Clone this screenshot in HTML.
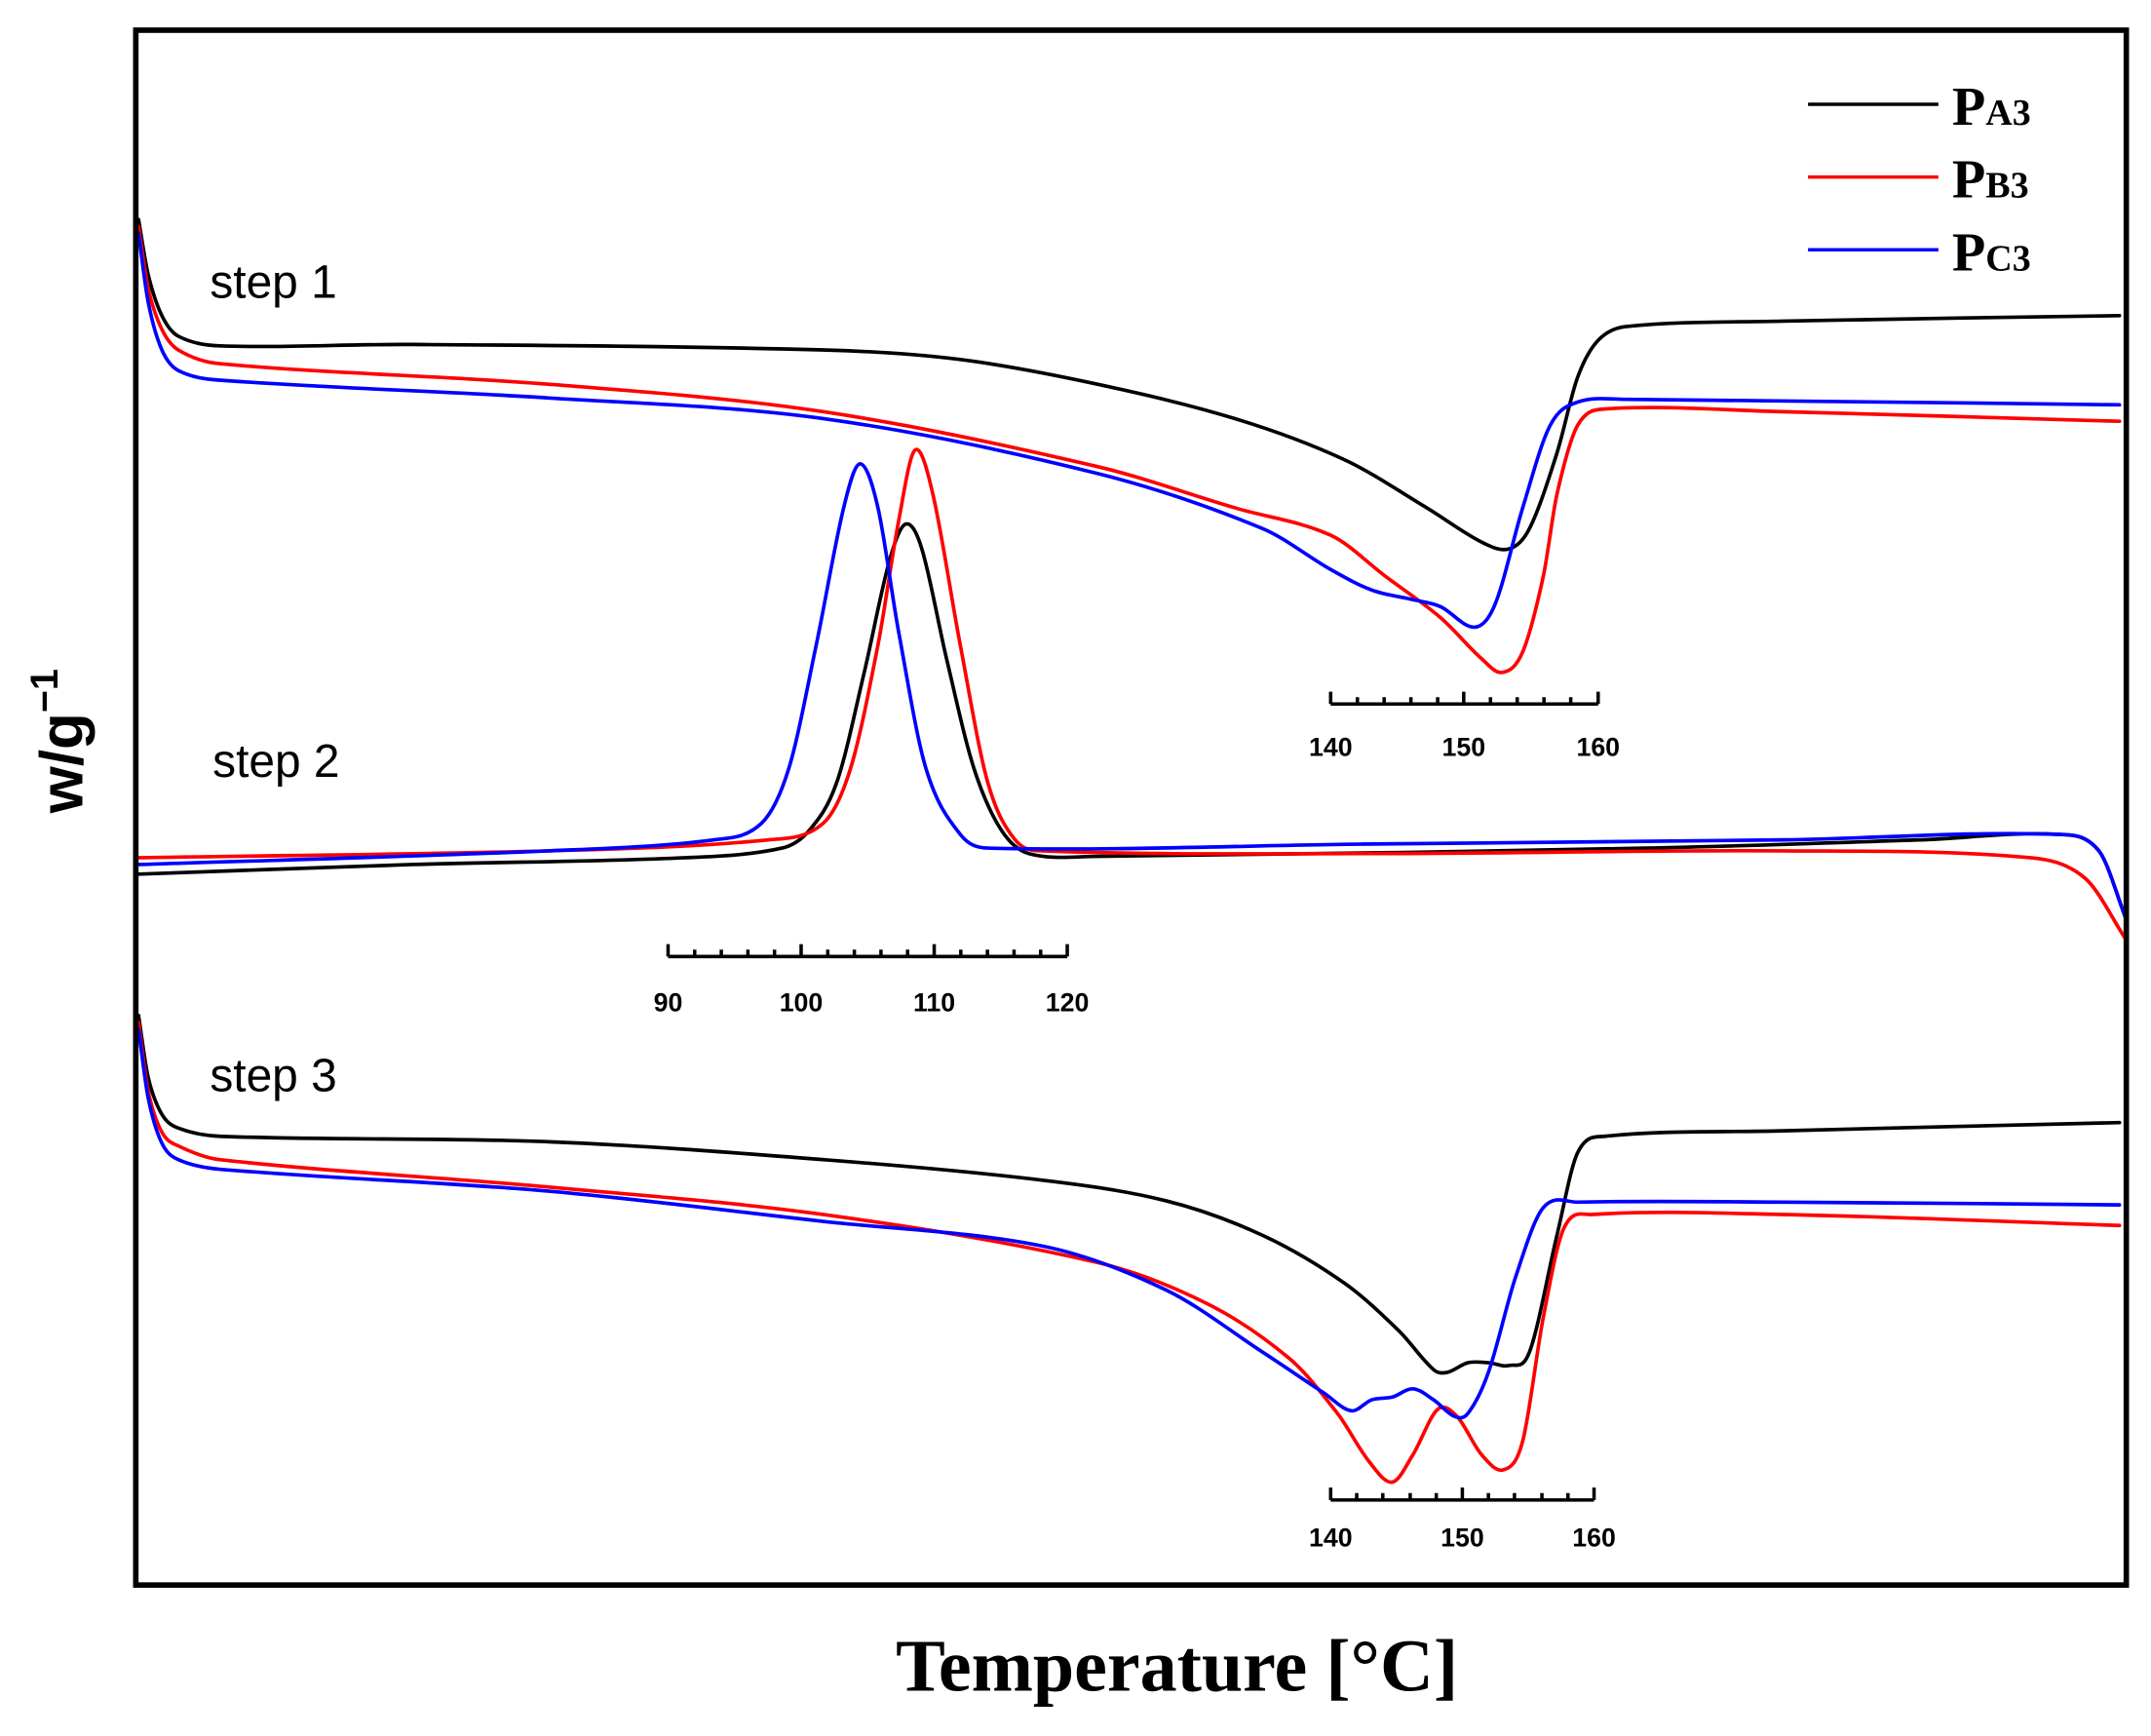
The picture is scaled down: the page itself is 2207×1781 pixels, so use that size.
<!DOCTYPE html>
<html><head><meta charset="utf-8"><style>html,body{margin:0;padding:0;background:#fff}svg{display:block}</style></head>
<body>
<svg id="s" width="2207" height="1781" viewBox="0 0 1568 1265" preserveAspectRatio="none" xmlns="http://www.w3.org/2000/svg">
<rect x="0" y="0" width="1568" height="1265" fill="#fff"/>
<g fill="none" stroke-width="2.6" stroke-linejoin="round" stroke-linecap="round">
<polyline stroke="#000" points="101,160 108,200 118,230 130,245 160,252 300,251 600,255 700,262 800,280 900,305 980,335 1040,370 1080,395 1100,400 1115,385 1135,330 1150,275 1165,248 1185,238 1300,234 1545,230"/>
<polyline stroke="#f00" points="101,165 108,210 118,240 130,255 160,265 400,280 600,300 800,340 900,370 970,390 1010,420 1050,450 1080,480 1095,490 1110,475 1125,420 1135,360 1150,310 1170,298 1300,300 1545,307"/>
<polyline stroke="#00f" points="101,170 108,220 118,255 130,270 160,277 400,290 600,305 800,345 920,385 970,415 1000,430 1030,437 1050,442 1075,457 1090,440 1110,370 1130,310 1150,293 1185,291 1545,295"/>
<polyline stroke="#000" points="101,637 300,630 500,625 570,618 590,605 610,570 630,490 648,410 660,382 672,400 690,480 710,560 730,605 750,622 800,624 1200,618 1400,612 1500,608 1530,620 1550,670"/>
<polyline stroke="#f00" points="101,625 400,620 560,612 600,600 620,560 640,470 655,380 667,328 680,360 700,470 720,570 740,612 760,620 1000,622 1300,620 1480,625 1520,640 1550,685"/>
<polyline stroke="#00f" points="101,630 400,620 520,612 555,600 575,560 595,470 615,370 627,338 640,370 655,460 675,560 700,608 720,618 1000,615 1300,612 1500,608 1530,620 1550,670"/>
<polyline stroke="#000" points="101,740 108,785 118,812 130,822 160,828 400,832 600,845 760,860 850,875 920,900 980,935 1020,970 1045,998 1055,1000 1070,993 1085,993 1100,995 1115,985 1135,900 1150,840 1170,828 1300,824 1545,818"/>
<polyline stroke="#f00" points="101,745 108,795 118,825 130,835 160,845 400,865 600,885 800,920 880,950 940,990 975,1030 998,1065 1015,1080 1030,1060 1048,1027 1062,1032 1080,1060 1096,1071 1110,1050 1125,960 1140,895 1160,885 1300,885 1545,893"/>
<polyline stroke="#00f" points="101,750 108,800 118,833 130,845 160,852 400,868 600,890 760,908 850,940 920,985 965,1015 985,1028 1000,1020 1015,1018 1030,1012 1045,1020 1060,1032 1070,1030 1085,1000 1105,930 1125,880 1150,876 1300,876 1545,878"/>
</g>
<rect x="99" y="22" width="1451" height="1133" fill="none" stroke="#000" stroke-width="4"/>
<g stroke-width="2.5">
<line x1="1318" y1="76" x2="1413" y2="76" stroke="#000"/>
<line x1="1318" y1="129" x2="1413" y2="129" stroke="#f00"/>
<line x1="1318" y1="182" x2="1413" y2="182" stroke="#00f"/>
</g>
<g font-family="Liberation Serif, serif" font-weight="bold" fill="#000">
<text x="1423" y="91" font-size="40">P<tspan font-size="27">A3</tspan></text>
<text x="1423" y="144" font-size="40">P<tspan font-size="27">B3</tspan></text>
<text x="1423" y="197" font-size="40">P<tspan font-size="27">C3</tspan></text>
<text x="858" y="1232" font-size="54" text-anchor="middle">Temperature [°C]</text>
</g>
<g font-family="Liberation Sans, sans-serif" fill="#000" font-size="34">
<text x="153" y="217">step 1</text>
<text x="155" y="566">step 2</text>
<text x="153" y="795">step 3</text>
</g>
<text transform="translate(60,540) rotate(-90)" font-family="Liberation Sans, sans-serif" font-weight="bold" font-size="44" text-anchor="middle">w/g<tspan font-size="28" dy="-18">−1</tspan></text>
<g stroke="#000" stroke-width="2.5" fill="none">
<line x1="970" y1="513" x2="1165" y2="513"/>
<path d="M970,513v-9M1067,513v-9M1165,513v-9M989.5,513v-5M1009,513v-5M1028.5,513v-5M1048,513v-5M1086.5,513v-5M1106,513v-5M1125.5,513v-5M1145,513v-5"/>
<line x1="487" y1="697" x2="778" y2="697"/>
<path d="M487,697v-9M584,697v-9M681,697v-9M778,697v-9M506.4,697v-5M525.8,697v-5M545.2,697v-5M564.6,697v-5M603.4,697v-5M622.8,697v-5M642.2,697v-5M661.6,697v-5M700.4,697v-5M719.8,697v-5M739.2,697v-5M758.6,697v-5"/>
<line x1="970" y1="1093" x2="1162" y2="1093"/>
<path d="M970,1093v-9M1066,1093v-9M1162,1093v-9M989,1093v-5M1008,1093v-5M1028,1093v-5M1047,1093v-5M1085,1093v-5M1104,1093v-5M1124,1093v-5M1143,1093v-5"/>
</g>
<g font-family="Liberation Sans, sans-serif" font-weight="bold" font-size="19" text-anchor="middle" fill="#000">
<text x="970" y="551">140</text><text x="1067" y="551">150</text><text x="1165" y="551">160</text>
<text x="487" y="737">90</text><text x="584" y="737">100</text><text x="681" y="737">110</text><text x="778" y="737">120</text>
<text x="970" y="1127">140</text><text x="1066" y="1127">150</text><text x="1162" y="1127">160</text>
</g>
</svg>
<script>
document.querySelectorAll('polyline').forEach(function(pl){
  var p=pl.getAttribute('points').trim().split(/\s+/).map(function(s){return s.split(',').map(Number);});
  var n=p.length,m=[];
  for(var i=0;i<n;i++){
    var a=p[Math.max(0,i-1)],b=p[Math.min(n-1,i+1)];
    m.push((b[1]-a[1])/(b[0]-a[0]));
  }
  var d='M'+p[0][0]+','+p[0][1];
  for(var i=0;i<n-1;i++){
    var p1=p[i],p2=p[i+1],dx=(p2[0]-p1[0])/3;
    d+=' C'+(p1[0]+dx).toFixed(1)+','+(p1[1]+m[i]*dx).toFixed(1)+' '+(p2[0]-dx).toFixed(1)+','+(p2[1]-m[i+1]*dx).toFixed(1)+' '+p2[0]+','+p2[1];
  }
  var path=document.createElementNS('http://www.w3.org/2000/svg','path');
  path.setAttribute('d',d);path.setAttribute('stroke',pl.getAttribute('stroke'));
  pl.parentNode.replaceChild(path,pl);
});
</script>
</body></html>
